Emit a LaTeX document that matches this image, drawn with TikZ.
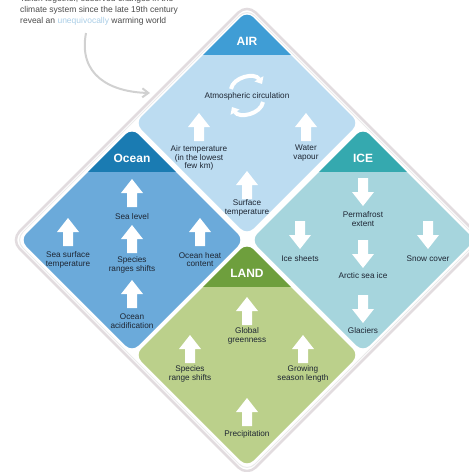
\documentclass[tikz,border=0pt]{standalone}
\usepackage{fontspec}
\setmainfont{Liberation Sans}
\usetikzlibrary{arrows.meta}
\definecolor{airbody}{HTML}{BCDCF1}
\definecolor{airhead}{HTML}{3F9DD5}
\definecolor{oceanbody}{HTML}{6BAADA}
\definecolor{oceanhead}{HTML}{1A7BB2}
\definecolor{icebody}{HTML}{A6D5DD}
\definecolor{icehead}{HTML}{35A9AF}
\definecolor{landbody}{HTML}{BBD08B}
\definecolor{landhead}{HTML}{6E9F3D}
\definecolor{txt}{HTML}{1E2633}
\definecolor{introtxt}{HTML}{4A4A4A}
\definecolor{introblue}{HTML}{A9CDE6}
\definecolor{glow}{HTML}{E2DCDF}
\tikzset{
  lbl/.style={font=\fontsize{8.2}{8.8}\selectfont, text=txt, align=center, inner sep=0pt},
  headlbl/.style={font=\fontsize{12}{12}\selectfont\bfseries, text=white, inner sep=0pt},
  uparrow/.pic={\fill[white] (-5,14) -- (5,14) -- (5,0) -- (11,0) -- (0,-14) -- (-11,0) -- (-5,0) -- cycle;},
  downarrow/.pic={\fill[white] (-5,-14) -- (5,-14) -- (5,0) -- (11,0) -- (0,14) -- (-11,0) -- (-5,0) -- cycle;},
  circarrow/.style={white, line width=4pt, -{Triangle[width=10pt,length=6pt]}},
}
\newcommand{\regionbox}[6]{%
  \path[rounded corners=9pt, fill=#3] (#1,#2-112) -- (#1+112,#2) -- (#1,#2+112) -- (#1-112,#2) -- cycle;
  \begin{scope}
    \clip[rounded corners=9pt] (#1,#2-112) -- (#1+112,#2) -- (#1,#2+112) -- (#1-112,#2) -- cycle;
    \fill[#4] (#1-120,#2-130) rectangle (#1+120,#2-68);
  \end{scope}
  \node[headlbl] (#6) at (#1,#2-82) {#5};
}
\begin{document}
\begin{tikzpicture}[x=1pt,y=-1pt]
\useasboundingbox (0,0) rectangle (469,472);
\clip (0,0) rectangle (469,472);
% outer frame
\path[rounded corners=12pt, draw=glow, line width=2.5pt, fill=white] (247,4) -- (483,240) -- (247,476) -- (11,240) -- cycle;
\path[rounded corners=11pt, draw=black!8, line width=1pt] (247,8) -- (479,240) -- (247,472) -- (15,240) -- cycle;
% intro text
\node[anchor=north west, font=\fontsize{8.5}{11}\selectfont, text=introtxt, align=left, inner sep=0pt] (intro) at (20,-5)
  {Taken together, observed changes in the\\
   climate system since the late 19th century\\
   reveal an \textcolor{introblue}{unequivocally} warming world};
\coordinate (arrowstart) at (86,33);
\coordinate (arrowend) at (150,93);
\draw[black!18, line width=2pt, -{Straight Barb[length=6pt,width=9pt]}] (arrowstart) .. controls (78,75) and (110,92) .. (arrowend);
% regions
\regionbox{247}{123}{airbody}{airhead}{AIR}{airhdr}
\regionbox{132}{240}{oceanbody}{oceanhead}{Ocean}{oceanhdr}
\regionbox{363}{240}{icebody}{icehead}{ICE}{icehdr}
\regionbox{247}{355}{landbody}{landhead}{LAND}{landhdr}
% AIR
\draw[circarrow] (231,89) .. controls (233,77) and (255,72) .. (262,84);
\draw[circarrow] (263,102) .. controls (261,114) and (239,119) .. (232,107);
\node[lbl] (atmo) at (247,96) {Atmospheric circulation};
\pic at (199,127) {uparrow};
\node[lbl] (airtemp) at (199,158) {Air temperature\\(in the lowest\\few km)};
\pic at (306,127) {uparrow};
\node[lbl] (watervap) at (306,153) {Water\\vapour};
\pic at (247,185) {uparrow};
\node[lbl] (surftemp) at (247,207.5) {Surface\\temperature};
% Ocean
\pic at (132,193) {uparrow};
\node[lbl] (sealevel) at (132,217) {Sea level};
\pic at (132,239) {uparrow};
\node[lbl] (oceanspecies) at (132,264.5) {Species\\ranges shifts};
\pic at (132,294) {uparrow};
\node[lbl] (acid) at (132,321.5) {Ocean\\acidification};
\pic at (68,232) {uparrow};
\node[lbl] (sst) at (68,259.5) {Sea surface\\temperature};
\pic at (200,232) {uparrow};
\node[lbl] (ohc) at (200,259.5) {Ocean heat\\content};
% ICE
\pic at (363,192) {downarrow};
\node[lbl] (perma) at (363,219) {Permafrost\\extent};
\pic at (300,235) {downarrow};
\node[lbl] (icesheets) at (300,259) {Ice sheets};
\pic at (428,235) {downarrow};
\node[lbl] (snow) at (428,259) {Snow cover};
\pic at (363,254) {downarrow};
\node[lbl] (arctic) at (363,276) {Arctic sea ice};
\pic at (363,309) {downarrow};
\node[lbl] (glaciers) at (363,331) {Glaciers};
% LAND
\pic at (247,311) {uparrow};
\node[lbl] (green) at (247,335.5) {Global\\greenness};
\pic at (190,349) {uparrow};
\node[lbl] (landspecies) at (190,373.5) {Species\\range shifts};
\pic at (303,349) {uparrow};
\node[lbl] (growing) at (303,374) {Growing\\season length};
\pic at (247,412) {uparrow};
\node[lbl] (precip) at (247,434) {Precipitation};
\end{tikzpicture}
\end{document}
